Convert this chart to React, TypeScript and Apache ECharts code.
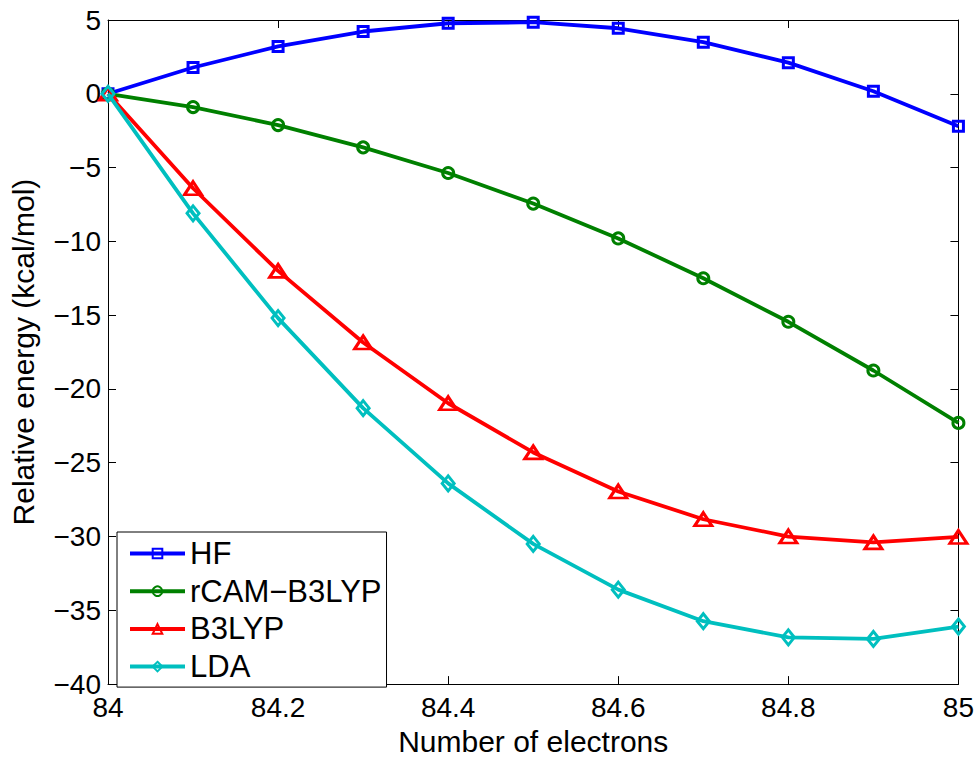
import React, { useEffect, useRef } from "react";
import * as echarts from "echarts";

const xValues = [84, 84.1, 84.2, 84.3, 84.4, 84.5, 84.6, 84.7, 84.8, 84.9, 85];
const hfValues = [0, 1.78, 3.21, 4.22, 4.78, 4.85, 4.44, 3.5, 2.11, 0.17, -2.2];
const rcamValues = [0, -0.9, -2.12, -3.63, -5.37, -7.44, -9.8, -12.5, -15.45, -18.75, -22.3];
const b3lypValues = [0, -6.4, -12.0, -16.85, -20.97, -24.3, -26.95, -28.83, -30.0, -30.4, -30.03];
const ldaValues = [0, -8.1, -15.2, -21.3, -26.4, -30.5, -33.6, -35.74, -36.83, -36.94, -36.1];

const seriesNames = ["HF", "rCAM\u2212B3LYP", "B3LYP", "LDA"];
const seriesColors = ["#0000ff", "#008000", "#ff0000", "#00bfbf"];
const seriesSymbols = ["rect", "circle", "triangle", "diamond"];
const seriesSizes: (number | number[])[] = [10, 11, [17, 13], [12, 15]];

const xTitle = "Number of electrons";
const yTitle = "Relative energy (kcal/mol)";

const FONT = "'Liberation Sans', Arial, Helvetica, sans-serif";

const fmtX = (v: number) => String(Math.round(v * 10) / 10);
const fmtY = (v: number) => {
  const r = Math.round(v);
  return r < 0 ? "\u2212" + Math.abs(r) : String(r);
};

export default function App() {
  const ref = useRef<HTMLDivElement>(null);
  useEffect(() => {
    if (!ref.current) return;
    const chart = echarts.init(ref.current, undefined, { renderer: "svg" });
    const all = [hfValues, rcamValues, b3lypValues, ldaValues];
    const mkLine = () => ({ show: true, onZero: false, lineStyle: { color: "#000", width: 1 } });
    const mkTick = () => ({ show: true, inside: true, length: 8, lineStyle: { color: "#000", width: 1 } });
    const dataSeries = seriesNames.map((name, i) => ({
      name,
      type: "line",
      xAxisIndex: 0,
      yAxisIndex: 0,
      data: xValues.map((x, j) => [x, all[i][j]]),
      symbol: seriesSymbols[i],
      symbolSize: seriesSizes[i],
      showAllSymbol: true,
      color: seriesColors[i],
      lineStyle: { color: seriesColors[i], width: 3.8 },
      itemStyle: { color: "rgba(255,255,255,0)", borderColor: seriesColors[i], borderWidth: 3 },
      emphasis: { disabled: true },
      z: 3 + i,
    }));
    chart.setOption({
      animation: false,
      backgroundColor: "#fff",
      textStyle: { fontFamily: FONT },
      grid: { left: 107, right: 17, top: 20, bottom: 68, containLabel: false },
      legend: {
        orient: "vertical",
        left: 117,
        top: 532,
        itemWidth: 55,
        itemHeight: 12,
        itemGap: 6.7,
        padding: [6, 5, 5, 11],
        borderColor: "#000",
        borderWidth: 1,
        borderRadius: 0,
        backgroundColor: "#fff",
        lineStyle: { width: 4 },
        textStyle: { fontSize: 31, lineHeight: 30, color: "#000", fontFamily: FONT },
        data: seriesNames,
        z: 10,
      },
      xAxis: [
        {
          type: "value",
          min: 84,
          max: 85,
          interval: 0.2,
          position: "bottom",
          axisLine: mkLine(),
          axisTick: mkTick(),
          splitLine: { show: false },
          axisLabel: { formatter: fmtX, fontSize: 28, color: "#000", margin: 9, fontFamily: FONT },
          name: xTitle,
          nameLocation: "middle",
          nameGap: 38,
          nameTextStyle: { fontSize: 30, color: "#000", fontFamily: FONT },
        },
        {
          type: "value",
          min: 84,
          max: 85,
          interval: 0.2,
          position: "top",
          axisLine: mkLine(),
          axisTick: mkTick(),
          splitLine: { show: false },
          axisLabel: { show: false },
        },
      ],
      yAxis: [
        {
          type: "value",
          min: -40,
          max: 5,
          interval: 5,
          position: "left",
          axisLine: mkLine(),
          axisTick: mkTick(),
          splitLine: { show: false },
          axisLabel: { formatter: fmtY, fontSize: 28, color: "#000", margin: 7, fontFamily: FONT },
          name: yTitle,
          nameLocation: "middle",
          nameGap: 70,
          nameTextStyle: { fontSize: 30, color: "#000", fontFamily: FONT },
        },
        {
          type: "value",
          min: -40,
          max: 5,
          interval: 5,
          position: "right",
          axisLine: mkLine(),
          axisTick: mkTick(),
          splitLine: { show: false },
          axisLabel: { show: false },
        },
      ],
      series: [
        ...dataSeries,
        {
          name: "_frame",
          type: "line",
          xAxisIndex: 1,
          yAxisIndex: 1,
          data: [],
          symbol: "none",
          silent: true,
        },
      ],
    });
    return () => chart.dispose();
  }, []);
  return (
    <div
      ref={ref}
      style={{ position: "fixed", left: 0, top: 0, width: 977, height: 761, overflow: "hidden" }}
    />
  );
}
